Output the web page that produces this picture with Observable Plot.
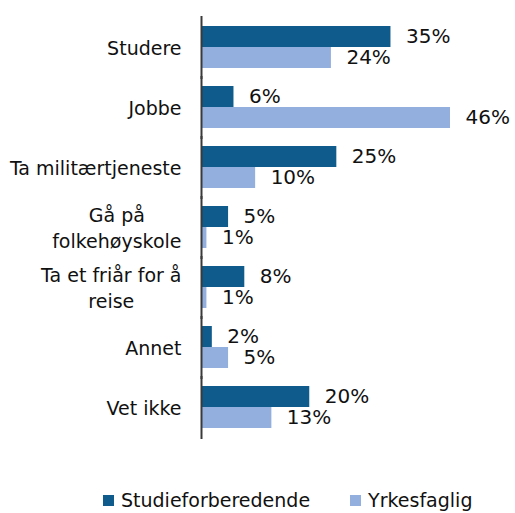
<!DOCTYPE html>
<html>
<head>
<meta charset="utf-8">
<script src="https://cdn.jsdelivr.net/npm/d3@7"></script>
<script src="https://cdn.jsdelivr.net/npm/@observablehq/plot@0.6"></script>
<style>
  body { margin: 0; background: #fff; font-family: "DejaVu Sans", sans-serif; }
  #legend { display: flex; align-items: center; padding-left: 103px; padding-top: 18px; font-size: 19px; color: #111; line-height: 24px; }
  .item { display: flex; align-items: center; }
  .sw { width: 11px; height: 11px; margin-right: 7px; }
</style>
</head>
<body>
<div id="chart"></div>
<div id="legend"></div>
<script>
const categories = ["Studere", "Jobbe", "Ta militærtjeneste", "Gå på folkehøyskole", "Ta et friår for å reise", "Annet", "Vet ikke"];
const categoryLabels = ["Studere", "Jobbe", "Ta militærtjeneste", "Gå på\nfolkehøyskole", "Ta et friår for å\nreise", "Annet", "Vet ikke"];
const seriesNames = ["Studieforberedende", "Yrkesfaglig"];
const studieforberedende = [35, 6, 25, 5, 8, 2, 20];
const yrkesfaglig = [24, 46, 10, 1, 1, 5, 13];
const colors = ["#0F5B8C", "#93AFDD"];

const FONT = "DejaVu Sans";
const FS = 19;

const rows = [];
categories.forEach((c, i) => {
  rows.push({cat: c, series: seriesNames[0], value: studieforberedende[i]});
  rows.push({cat: c, series: seriesNames[1], value: yrkesfaglig[i]});
});

// measure label widths to center multi-line labels
const ctx = document.createElement("canvas").getContext("2d");
ctx.font = `${FS}px "${FONT}"`;
const gap = 20;
const labelMarks = categories.map((c, i) => {
  const lines = categoryLabels[i].split("\n");
  const w = d3.max(lines, l => ctx.measureText(l).width);
  return Plot.text([c], {
    fy: d => d,
    text: () => categoryLabels[i],
    frameAnchor: "left",
    textAnchor: "middle",
    dx: -(gap + w / 2),
    lineHeight: 1.37,
    fill: "#111"
  });
});

const chart = Plot.plot({
  width: 515,
  height: 470,
  marginLeft: 201,
  marginRight: 65,
  marginTop: 14,
  marginBottom: 32,
  style: {fontFamily: FONT, fontSize: FS + "px", background: "#fff"},
  x: {domain: [0, d3.max(rows, d => d.value)], axis: null},
  y: {domain: seriesNames, padding: 0, axis: null},
  fy: {domain: categories, paddingInner: 0.284, paddingOuter: 0.142, axis: null, label: null},
  color: {domain: seriesNames, range: colors},
  marks: [
    Plot.barX(rows, {fy: "cat", y: "series", x: "value", fill: "series"}),
    Plot.text(rows, {fy: "cat", y: "series", x: "value", text: d => d.value + "%", textAnchor: "start", dx: 15, fontSize: 20, fill: "#111"}),
    Plot.ruleX([0], {stroke: "#3a3a3a", strokeWidth: 2, insetTop: -9, insetBottom: -11}),
    ...labelMarks
  ]
});
document.getElementById("chart").appendChild(chart);

const legend = document.getElementById("legend");
seriesNames.forEach((s, i) => {
  const it = document.createElement("div");
  it.className = "item";
  if (i > 0) it.style.marginLeft = "40px";
  const sw = document.createElement("div");
  sw.className = "sw";
  sw.style.background = colors[i];
  const t = document.createElement("span");
  t.textContent = s;
  it.appendChild(sw); it.appendChild(t);
  legend.appendChild(it);
});
</script>
</body>
</html>
